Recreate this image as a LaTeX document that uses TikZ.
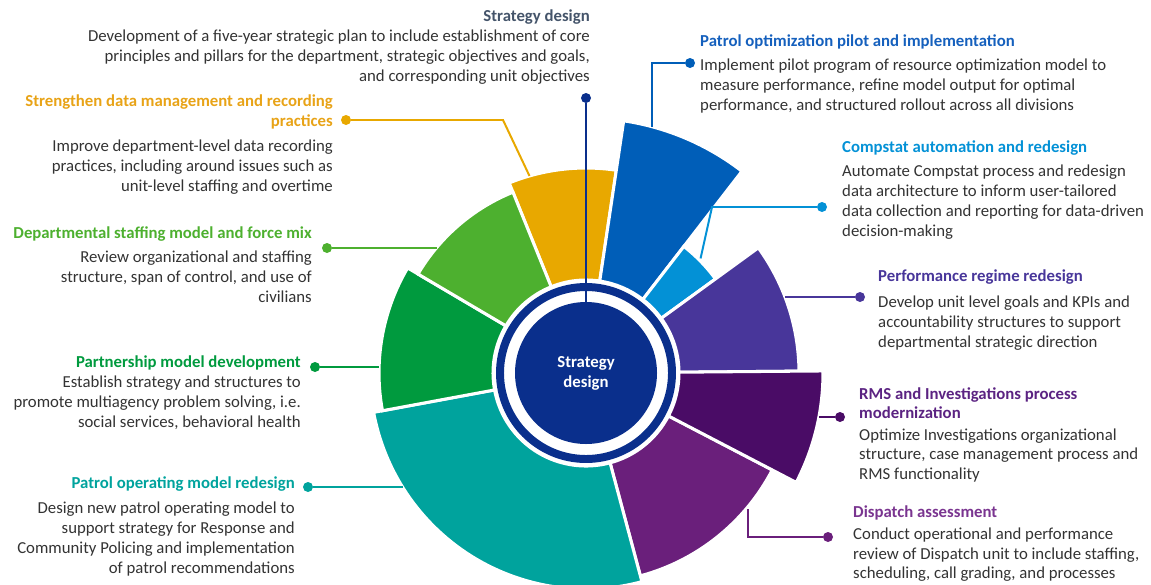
\documentclass[tikz,border=0pt]{standalone}
\usepackage{fontspec}
\setmainfont{Carlito}
\usetikzlibrary{calc}

\definecolor{navy}{HTML}{0A2F8C}
\definecolor{slate}{HTML}{44546A}
\definecolor{bodygray}{HTML}{333333}
\definecolor{gold}{HTML}{E8A800}
\definecolor{goldtxt}{HTML}{E8A317}
\definecolor{oblue}{HTML}{005EB8}
\definecolor{obluetxt}{HTML}{1560BD}
\definecolor{sky}{HTML}{0391D6}
\definecolor{indigo}{HTML}{48369A}
\definecolor{plum}{HTML}{4A0C66}
\definecolor{plumtxt}{HTML}{5B2382}
\definecolor{violet}{HTML}{6A1F7B}
\definecolor{violettxt}{HTML}{7A3590}
\definecolor{teal}{HTML}{00A39D}
\definecolor{forest}{HTML}{009A3E}
\definecolor{lime}{HTML}{4DB02F}

\newcommand{\hd}[2]{\textcolor{#1}{\bfseries #2}}

\tikzset{
  lbl/.style={inner sep=0pt, text=bodygray, font=\fontsize{14.3}{17}\selectfont},
  dot/.style={circle, fill=#1, inner sep=0pt, minimum size=0.3cm},
  lead/.style={draw=#1, line width=1.7pt}
}

\begin{document}
\begin{tikzpicture}[x=0.03cm, y=0.03cm]
  \useasboundingbox (0,0) rectangle (1151,-584);
  \clip (0,0) rectangle (1151,-584);

  \coordinate (c) at (586,-373);

  % wheel
  \begin{scope}[shift={(586,-373)}]
    \foreach \s/\e/\r/\c in {112/81.5/205/gold, 81.5/52.3/255/oblue, 52.3/36/160/sky,
        36/0.5/213/indigo, -27.5/-75/210/violet, 0.5/-27.5/237/plum,
        -75/-169.5/216/teal, 190.5/149.5/207/forest, 149.5/112/195/lime}{
      \filldraw[fill=\c, draw=white, line width=2.6pt]
        (\s:93) arc[start angle=\s, end angle=\e, radius=93]
        -- (\e:\r) arc[start angle=\e, end angle=\s, radius=\r] -- cycle;
    }
    \draw[navy, line width=6.8pt] (0,0) circle[radius=86];
  \end{scope}
  \node[circle, fill=navy, minimum size=4.26cm, inner sep=0pt, text=white, align=center,
    font=\fontsize{14.3}{17}\selectfont\bfseries] (core) at (c) {Strategy\\design};

  % texts
  \node[lbl, anchor=north east, align=right] (strat) at (590,-10)
    {\hd{slate}{Strategy design}\\
     Development of a five-year strategic plan to include establishment of core\\
     principles and pillars for the department, strategic objectives and goals,\\
     and corresponding unit objectives};
  \node[lbl, anchor=north east, align=right] (datamgmt) at (333,-95)
    {\hd{goldtxt}{Strengthen data management and recording}\\
     \hd{goldtxt}{practices}\\[4pt]
     Improve department-level data recording\\
     practices, including around issues such as\\
     unit-level staffing and overtime};
  \node[lbl, anchor=north east, align=right] (staffing) at (312,-226)
    {\hd{lime}{Departmental staffing model and force mix}\\[4pt]
     Review organizational and staffing\\
     structure, span of control, and use of\\
     civilians};
  \node[lbl, anchor=north east, align=right] (partner) at (301,-356)
    {\hd{forest}{Partnership model development}\\
     Establish strategy and structures to\\
     promote multiagency problem solving, i.e.\\
     social services, behavioral health};
  \node[lbl, anchor=north east, align=right] (patrolop) at (295,-476)
    {\hd{teal}{Patrol operating model redesign}\\[5pt]
     Design new patrol operating model to\\
     support strategy for Response and\\
     Community Policing and implementation\\
     of patrol recommendations};
  \node[lbl, anchor=north west, align=left] (patrolopt) at (700,-34)
    {\hd{obluetxt}{Patrol optimization pilot and implementation}\\[4pt]
     Implement pilot program of resource optimization model to\\
     measure performance, refine model output for optimal\\
     performance, and structured rollout across all divisions};
  \node[lbl, anchor=north west, align=left] (compstat) at (842,-140)
    {\hd{sky}{Compstat automation and redesign}\\[4pt]
     Automate Compstat process and redesign\\
     data architecture to inform user-tailored\\
     data collection and reporting for data-driven\\
     decision-making};
  \node[lbl, anchor=north west, align=left] (perf) at (878,-270)
    {\hd{indigo}{Performance regime redesign}\\[5pt]
     Develop unit level goals and KPIs and\\
     accountability structures to support\\
     departmental strategic direction};
  \node[lbl, anchor=north west, align=left] (rms) at (859,-387)
    {\hd{plumtxt}{RMS and Investigations process}\\
     \hd{plumtxt}{modernization}\\[1pt]
     Optimize Investigations organizational\\
     structure, case management process and\\
     RMS functionality};
  \node[lbl, anchor=north west, align=left] (dispatch) at (853,-506)
    {\hd{violettxt}{Dispatch assessment}\\[1pt]
     Conduct operational and performance\\
     review of Dispatch unit to include staffing,\\
     scheduling, call grading, and processes};

  % dots and leaders
  \node[dot=navy] (stratdot) at (586,-98) {};
  \node[dot=gold] (datadot) at (346,-120) {};
  \node[dot=lime] (staffdot) at (327,-248) {};
  \node[dot=forest] (partnerdot) at (315,-367) {};
  \node[dot=teal] (patrolopdot) at (308,-487) {};
  \node[dot=oblue] (patroloptdot) at (690,-63) {};
  \node[dot=sky] (compstatdot) at (822,-207) {};
  \node[dot=indigo] (perfdot) at (860,-297) {};
  \node[dot=plum] (rmsdot) at (840,-417) {};
  \node[dot=violet] (dispatchdot) at (828,-537) {};

  \coordinate (databend) at (503,-120);
  \coordinate (dataend) at ($(c)+(106:205)$);
  \coordinate (staffend) at ($(c)+(140:195)$);
  \coordinate (partnerend) at ($(c)+(178:207)$);
  \coordinate (patrolopend) at ($(c)+(212:216)$);
  \coordinate (patroloptend) at ($(c)+(75:255)$);
  \coordinate (compstatbend) at (712,-207);
  \coordinate (compstatend) at ($(c)+(45:162)$);
  \coordinate (perfend) at ($(c)+(21:213)$);
  \coordinate (rmsend) at ($(c)+(-11:237)$);
  \coordinate (dispatchend) at ($(c)+(-40:212)$);

  \draw[lead=navy] (stratdot) -- (core.north);
  \draw[lead=gold] (datadot) -- (databend) -- (dataend);
  \draw[lead=lime] (staffdot) -- (staffdot -| staffend);
  \draw[lead=forest] (partnerdot) -- (partnerdot -| partnerend);
  \draw[lead=teal] (patrolopdot) -- (patrolopdot -| patrolopend);
  \draw[lead=oblue] (patroloptdot) -| (patroloptend);
  \draw[lead=sky] (compstatdot) -- (compstatbend) -- (compstatend);
  \draw[lead=indigo] (perfdot) -- (perfdot -| perfend);
  \draw[lead=plum] (rmsdot) -- (rmsdot -| rmsend);
  \draw[lead=violet] (dispatchdot) -| (dispatchend);
\end{tikzpicture}
\end{document}
